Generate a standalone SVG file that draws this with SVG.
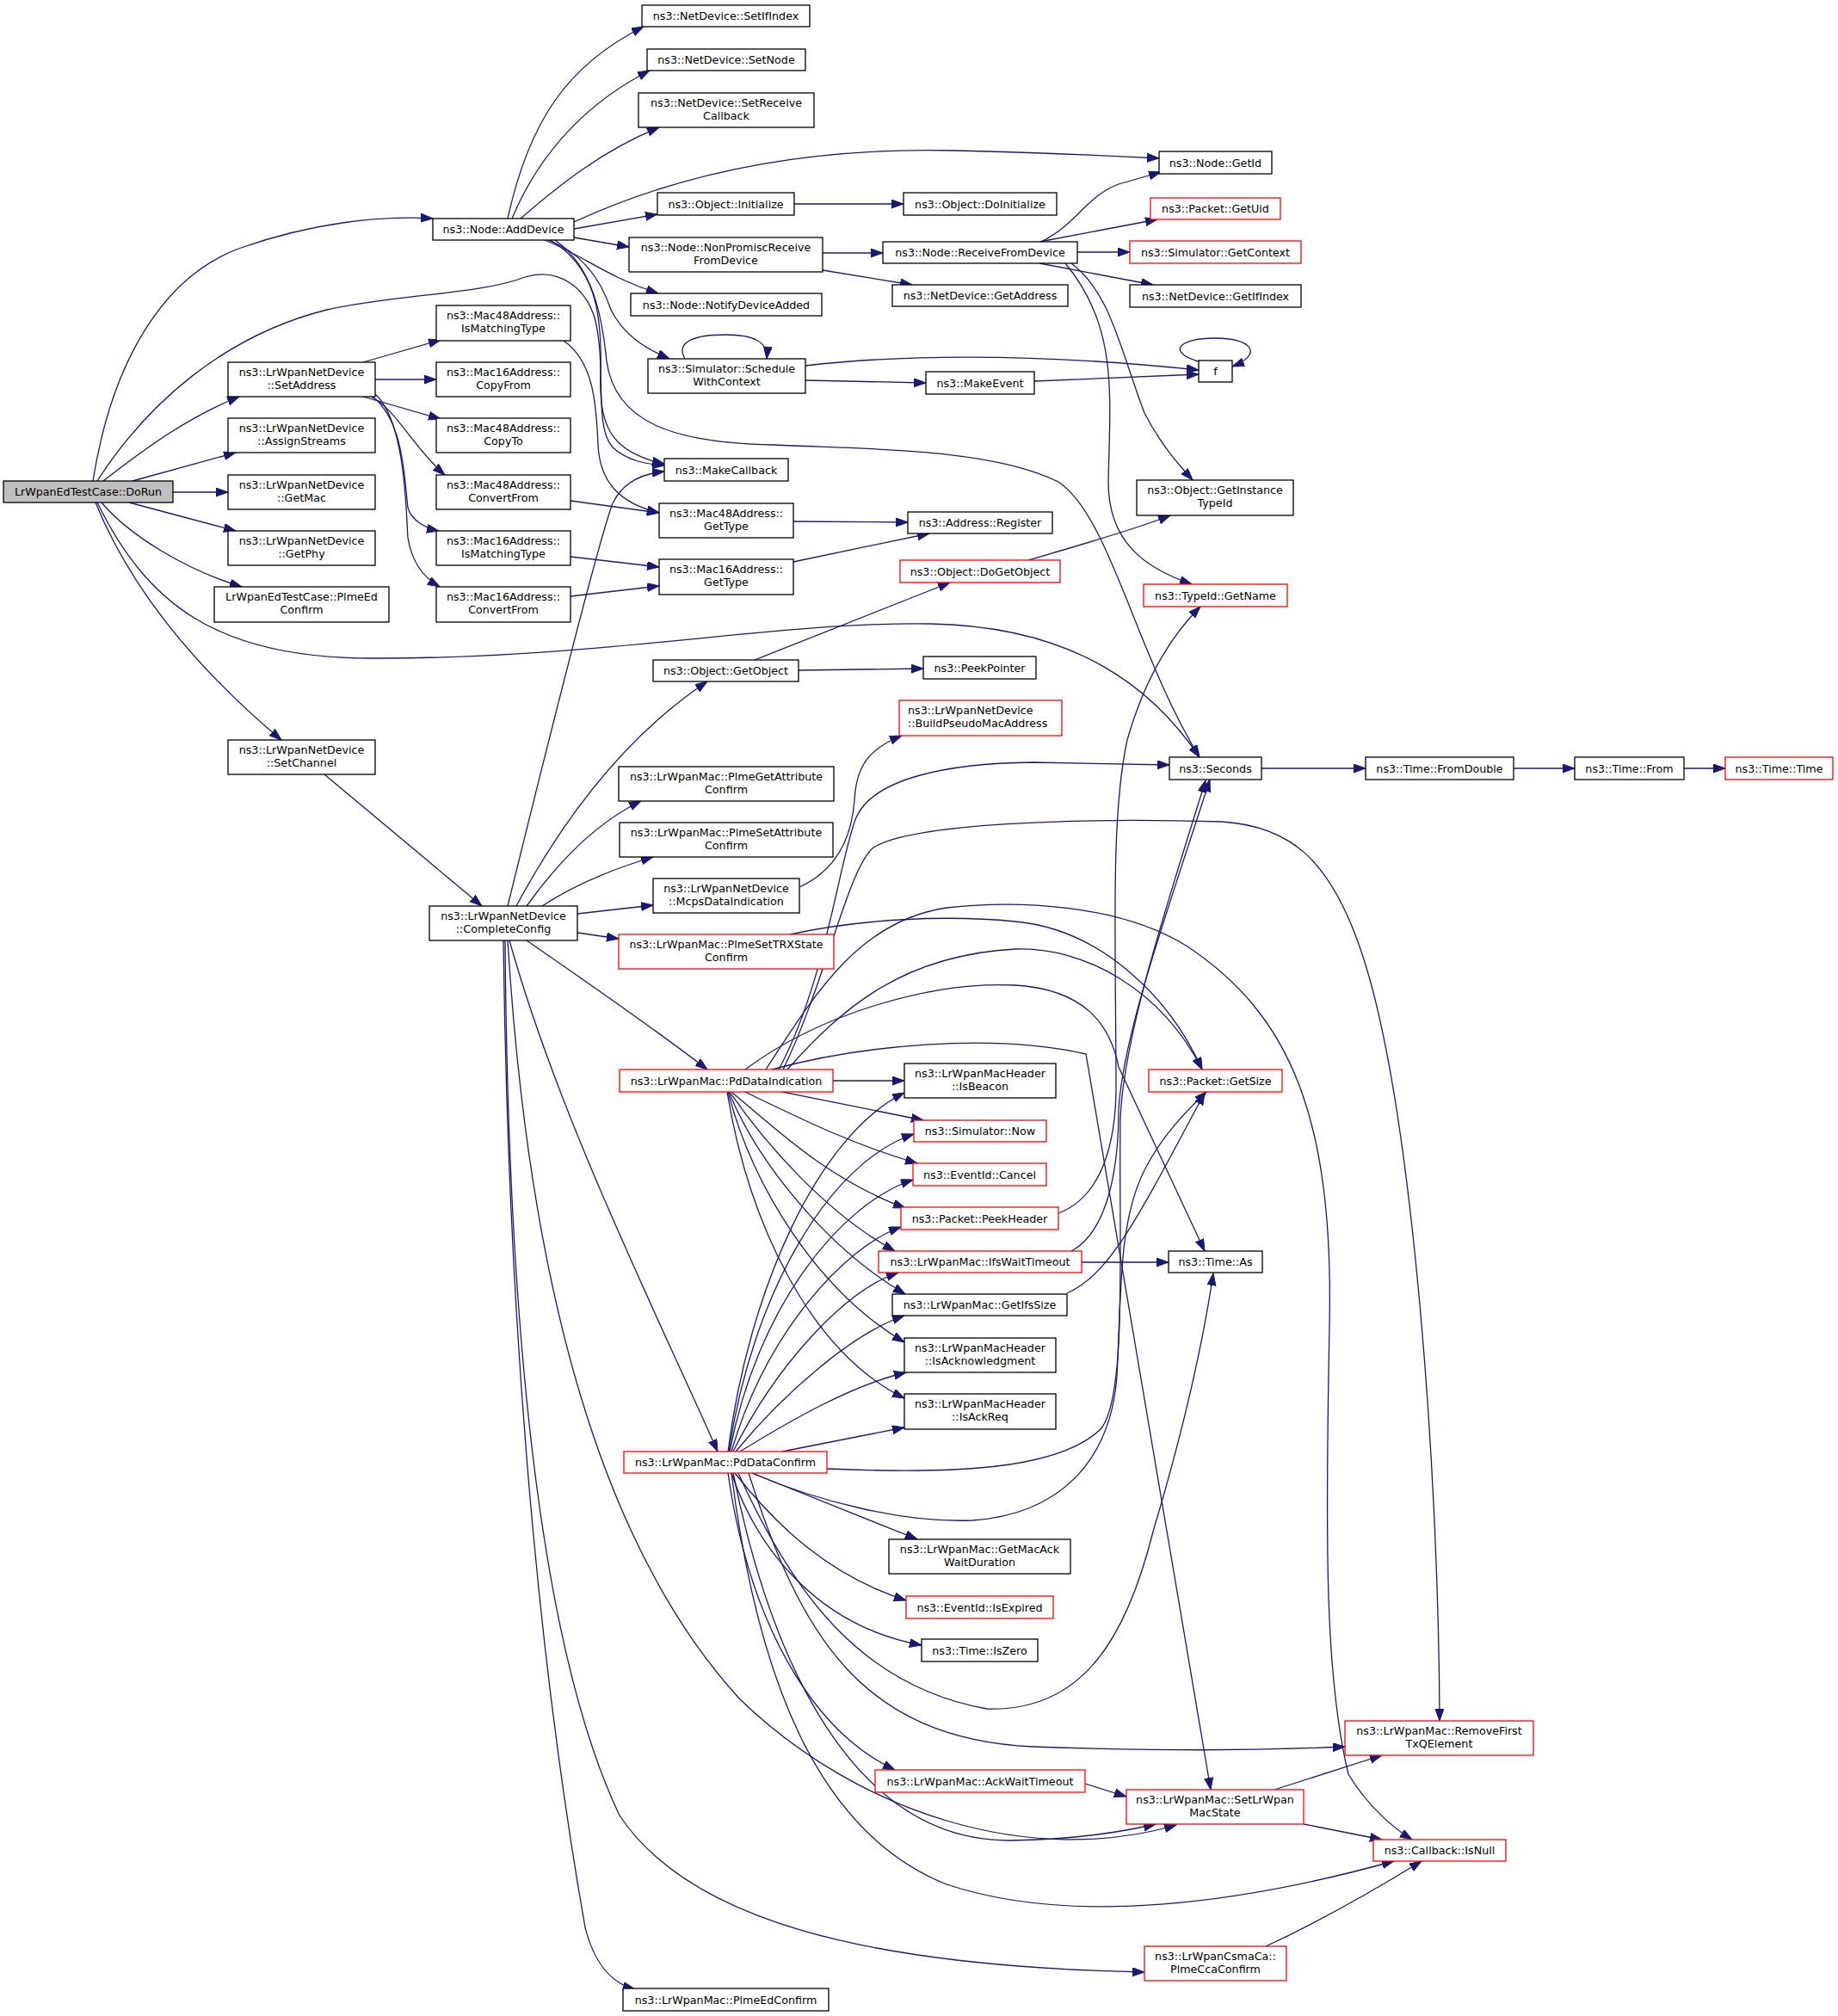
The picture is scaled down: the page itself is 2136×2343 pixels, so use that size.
<svg xmlns="http://www.w3.org/2000/svg" width="2136" height="2343" viewBox="0 0 2136 2343">
<style>
rect{fill:#fff;stroke:#000;stroke-width:1.3}
.r rect{stroke:#ff0000}
.g rect{fill:#bfbfbf}
text{font-family:"DejaVu Sans","Liberation Sans",sans-serif;font-size:12.7px;fill:#000;text-anchor:middle}
text.l{text-anchor:start}
#edges path{fill:none;stroke:#191970;stroke-width:1.3;marker-end:url(#a)}
</style>
<defs>
<marker id="a" markerUnits="userSpaceOnUse" markerWidth="16" markerHeight="12" refX="14" refY="5" orient="auto"><path d="M0,0 L14,5 L0,10 z" fill="#191970" stroke="#191970" stroke-width="1"/></marker>
</defs>
<rect x="0" y="0" width="2136" height="2343" style="fill:#fff;stroke:none"/>
<g id="edges">
<path d="M108,559 C130,420 190,320 280,288 C360,260 440,250 503,254"/>
<path d="M113,559 C170,470 260,390 380,360 C460,342 560,342 610,322 C650,310 682,335 692,373 C705,430 690,495 712,520 C730,536 750,539 772,541"/>
<path d="M120,559 C170,520 220,484 278,461"/>
<path d="M154,559 L274,526"/>
<path d="M201,572 L265,572"/>
<path d="M150,584 L274,617"/>
<path d="M118,584 C150,622 215,662 281,682"/>
<path d="M111,584 C150,680 220,770 327,860"/>
<path d="M113,584 C170,700 250,765 431,765 C700,766 900,722 1081,725 C1250,728 1340,800 1394,880"/>
<path d="M590,254 C615,140 660,75 748,31"/>
<path d="M595,254 C630,170 690,115 755,82"/>
<path d="M605,254 C650,215 700,175 766,148"/>
<path d="M667,258 C760,215 900,170 1109,175 C1200,177 1290,181 1347,184"/>
<path d="M667,266 L764,249"/>
<path d="M667,276 L731,287"/>
<path d="M633,279 C680,298 705,322 765,341"/>
<path d="M637,279 C680,295 700,330 710,360 C725,390 750,405 778,417"/>
<path d="M640,279 C690,310 700,360 698,430 C696,490 705,525 772,539"/>
<path d="M645,279 C690,310 700,370 705,420 C715,490 780,515 900,517 C1000,522 1150,520 1230,560 C1290,600 1320,760 1394,880"/>
<path d="M655,396 C690,420 693,470 695,517 C697,560 720,585 766,596"/>
<path d="M422,421 L512,395"/>
<path d="M436,441 L507,441"/>
<path d="M422,461 L512,487"/>
<path d="M431,461 C460,475 480,520 517,552"/>
<path d="M433,461 C470,490 470,560 474,590 C478,605 495,614 510,617"/>
<path d="M436,458 C472,490 472,600 474,625 C478,650 490,670 511,682"/>
<path d="M663,582 L766,596"/>
<path d="M663,647 L766,659"/>
<path d="M663,693 L766,681"/>
<path d="M922,606 L1055,607"/>
<path d="M922,653 L1080,620"/>
<path d="M956,294 L1026,294"/>
<path d="M956,314 L1060,331"/>
<path d="M923,237 L1050,237"/>
<path d="M796,417 C784,396 810,389 843,389 C875,389 893,397 891,417"/>
<path d="M936,425 C1050,412 1200,410 1393,430"/>
<path d="M936,442 L1076,445"/>
<path d="M1202,443 L1393,435"/>
<path d="M1396,421 C1355,410 1368,393 1412,393 C1456,393 1468,412 1432,426"/>
<path d="M1210,281 C1250,262 1262,228 1300,214 L1349,200"/>
<path d="M1208,281 L1345,255"/>
<path d="M1252,293 L1313,293"/>
<path d="M1208,306 L1340,331"/>
<path d="M1245,306 C1290,340 1300,400 1330,480 C1348,515 1368,538 1386,558"/>
<path d="M1238,306 C1300,380 1290,460 1288,560 C1288,630 1330,660 1385,679"/>
<path d="M877,767 L1104,677"/>
<path d="M928,779 L1073,777"/>
<path d="M1195,651 C1250,635 1320,615 1360,599"/>
<path d="M377,900 L560,1053"/>
<path d="M590,1053 C640,850 695,630 712,585 C725,558 750,550 772,548"/>
<path d="M600,1053 C650,960 720,860 822,792"/>
<path d="M612,1053 C650,1000 695,955 745,931"/>
<path d="M630,1053 C665,1030 705,1012 759,996"/>
<path d="M671,1062 L759,1052"/>
<path d="M671,1084 L719,1091"/>
<path d="M612,1093 C680,1140 760,1195 822,1243"/>
<path d="M592,1093 C650,1300 760,1520 834,1687"/>
<path d="M590,1093 C615,1500 700,1800 860,1975 C1000,2110 1200,2170 1367,2121"/>
<path d="M587,1093 C590,1500 620,1900 720,2110 C800,2230 1000,2285 1330,2292"/>
<path d="M585,1093 C590,1500 620,1900 680,2240 C690,2280 710,2305 738,2312"/>
<path d="M929,1031 C975,1010 990,970 993,930 C995,890 1010,870 1048,855"/>
<path d="M1466,893 L1587,893"/>
<path d="M1759,893 L1830,893"/>
<path d="M1957,893 L2005,893"/>
<path d="M968,1256 L1051,1256"/>
<path d="M909,1269 L1073,1302"/>
<path d="M866,1269 C930,1300 990,1330 1066,1352"/>
<path d="M850,1269 C900,1310 960,1370 1052,1404"/>
<path d="M848,1269 C890,1330 960,1410 1040,1454"/>
<path d="M847,1269 C880,1350 960,1450 1052,1504"/>
<path d="M846,1269 C875,1380 950,1500 1051,1560"/>
<path d="M845,1269 C870,1420 940,1570 1051,1625"/>
<path d="M905,1243 C960,1140 975,1000 995,950 C1015,905 1100,887 1200,886 L1359,889"/>
<path d="M910,1243 C960,1140 985,1010 1015,985 C1060,957 1250,950 1420,955 C1500,960 1545,1000 1580,1100 C1640,1270 1672,1700 1673,2000"/>
<path d="M915,1243 C980,1170 1050,1110 1180,1103 C1260,1100 1350,1150 1397,1243"/>
<path d="M890,1243 C950,1150 1000,1070 1100,1055 C1180,1046 1300,1050 1380,1100 C1500,1180 1550,1300 1545,1540 C1540,1800 1540,1950 1567,2062 C1590,2100 1620,2125 1641,2138"/>
<path d="M866,1243 C950,1180 1080,1140 1180,1145 C1260,1150 1290,1190 1300,1240 L1400,1454"/>
<path d="M897,1243 C1000,1215 1150,1200 1262,1225 L1407,2080"/>
<path d="M918,1086 C1000,1068 1100,1063 1180,1071 C1280,1080 1360,1160 1397,1243"/>
<path d="M846,1687 C870,1500 950,1320 1051,1270"/>
<path d="M847,1687 C875,1500 965,1350 1062,1318"/>
<path d="M848,1687 C880,1520 975,1400 1061,1371"/>
<path d="M850,1687 C890,1550 980,1450 1047,1426"/>
<path d="M852,1687 C900,1590 980,1500 1044,1479"/>
<path d="M855,1687 C910,1620 990,1550 1051,1529"/>
<path d="M860,1687 C920,1650 990,1610 1053,1595"/>
<path d="M909,1687 L1051,1659"/>
<path d="M961,1707 C1100,1713 1230,1710 1280,1660 C1310,1620 1300,1450 1302,1300 C1306,1200 1360,1040 1401,907"/>
<path d="M874,1712 C950,1745 1050,1770 1130,1767 C1230,1760 1290,1700 1298,1600 C1303,1500 1300,1420 1330,1360 C1350,1320 1380,1290 1402,1269"/>
<path d="M858,1712 C920,1850 1000,1960 1147,1986 C1260,1990 1310,1900 1340,1780 C1370,1680 1395,1580 1410,1480"/>
<path d="M870,1712 C930,1900 1000,2020 1200,2030 C1350,2035 1450,2035 1563,2030"/>
<path d="M852,1712 C900,1950 1000,2140 1174,2139 C1250,2138 1300,2130 1343,2120"/>
<path d="M850,1712 C880,1950 950,2130 1100,2190 C1250,2240 1450,2210 1620,2163"/>
<path d="M874,1712 L1066,1789"/>
<path d="M854,1712 C900,1770 960,1830 1053,1860"/>
<path d="M850,1712 C880,1800 950,1890 1071,1912"/>
<path d="M846,1712 C870,1880 940,2010 1040,2057"/>
<path d="M1230,1410 C1270,1395 1295,1350 1297,1270 C1297,1100 1290,950 1310,860 C1330,790 1360,740 1395,705"/>
<path d="M1245,1454 C1290,1430 1300,1350 1300,1290 C1305,1200 1360,1050 1406,906"/>
<path d="M1257,1467 L1358,1467"/>
<path d="M1240,1503 C1290,1480 1320,1420 1400,1270"/>
<path d="M1261,2073 L1309,2088"/>
<path d="M1481,2080 L1606,2040"/>
<path d="M1515,2120 L1606,2138"/>
<path d="M1471,2262 C1540,2230 1600,2195 1652,2163"/>
</g>
<g id="n_dorun" class="g"><rect x="4" y="559" width="197" height="25"/><text x="102.5" y="576">LrWpanEdTestCase::DoRun</text></g>
<g id="n_adddevice"><rect x="503" y="254" width="164" height="25"/><text x="585" y="271">ns3::Node::AddDevice</text></g>
<g id="n_setifindex"><rect x="746" y="6" width="195" height="25"/><text x="843.5" y="23">ns3::NetDevice::SetIfIndex</text></g>
<g id="n_setnode"><rect x="752" y="57" width="184" height="25"/><text x="844" y="74">ns3::NetDevice::SetNode</text></g>
<g id="n_setreceivecallback"><rect x="742" y="108" width="204" height="40"/><text x="844" y="123.5">ns3::NetDevice::SetReceive</text><text x="844" y="138.5">Callback</text></g>
<g id="n_getid"><rect x="1347" y="176" width="131" height="26"/><text x="1412.5" y="193.5">ns3::Node::GetId</text></g>
<g id="n_initialize"><rect x="764" y="224" width="159" height="26"/><text x="843.5" y="241.5">ns3::Object::Initialize</text></g>
<g id="n_doinitialize"><rect x="1050" y="224" width="178" height="26"/><text x="1139" y="241.5">ns3::Object::DoInitialize</text></g>
<g id="n_nonpromisc"><rect x="731" y="276" width="225" height="40"/><text x="843.5" y="291.5">ns3::Node::NonPromiscReceive</text><text x="843.5" y="306.5">FromDevice</text></g>
<g id="n_receivefromdevice"><rect x="1026" y="281" width="226" height="25"/><text x="1139" y="298">ns3::Node::ReceiveFromDevice</text></g>
<g id="n_getuid" class="r"><rect x="1337" y="230" width="151" height="25"/><text x="1412.5" y="247">ns3::Packet::GetUid</text></g>
<g id="n_getcontext" class="r"><rect x="1313" y="280" width="199" height="26"/><text x="1412.5" y="297.5">ns3::Simulator::GetContext</text></g>
<g id="n_getifindex"><rect x="1313" y="331" width="199" height="26"/><text x="1412.5" y="348.5">ns3::NetDevice::GetIfIndex</text></g>
<g id="n_getaddress"><rect x="1037" y="331" width="204" height="25"/><text x="1139" y="348">ns3::NetDevice::GetAddress</text></g>
<g id="n_notifydeviceadded"><rect x="733" y="341" width="222" height="26"/><text x="844" y="358.5">ns3::Node::NotifyDeviceAdded</text></g>
<g id="n_mac48ismatching"><rect x="507" y="355" width="156" height="41"/><text x="585" y="371">ns3::Mac48Address::</text><text x="585" y="386">IsMatchingType</text></g>
<g id="n_setaddress"><rect x="265" y="421" width="171" height="40"/><text x="350.5" y="436.5">ns3::LrWpanNetDevice</text><text x="350.5" y="451.5">::SetAddress</text></g>
<g id="n_mac16copyfrom"><rect x="507" y="421" width="156" height="40"/><text x="585" y="436.5">ns3::Mac16Address::</text><text x="585" y="451.5">CopyFrom</text></g>
<g id="n_schedulewithcontext"><rect x="753" y="417" width="183" height="40"/><text x="844.5" y="432.5">ns3::Simulator::Schedule</text><text x="844.5" y="447.5">WithContext</text></g>
<g id="n_makeevent"><rect x="1076" y="432" width="126" height="26"/><text x="1139" y="449.5">ns3::MakeEvent</text></g>
<g id="n_f"><rect x="1393" y="419" width="39" height="25"/><text x="1412.5" y="436">f</text></g>
<g id="n_assignstreams"><rect x="265" y="486" width="171" height="40"/><text x="350.5" y="501.5">ns3::LrWpanNetDevice</text><text x="350.5" y="516.5">::AssignStreams</text></g>
<g id="n_mac48copyto"><rect x="507" y="486" width="156" height="40"/><text x="585" y="501.5">ns3::Mac48Address::</text><text x="585" y="516.5">CopyTo</text></g>
<g id="n_makecallback"><rect x="772" y="533" width="144" height="26"/><text x="844" y="550.5">ns3::MakeCallback</text></g>
<g id="n_getmac"><rect x="265" y="552" width="171" height="40"/><text x="350.5" y="567.5">ns3::LrWpanNetDevice</text><text x="350.5" y="582.5">::GetMac</text></g>
<g id="n_mac48convertfrom"><rect x="507" y="552" width="156" height="40"/><text x="585" y="567.5">ns3::Mac48Address::</text><text x="585" y="582.5">ConvertFrom</text></g>
<g id="n_getinstancetypeid"><rect x="1321" y="558" width="182" height="41"/><text x="1412" y="574">ns3::Object::GetInstance</text><text x="1412" y="589">TypeId</text></g>
<g id="n_mac48gettype"><rect x="766" y="585" width="156" height="40"/><text x="844" y="600.5">ns3::Mac48Address::</text><text x="844" y="615.5">GetType</text></g>
<g id="n_addressregister"><rect x="1055" y="595" width="168" height="25"/><text x="1139" y="612">ns3::Address::Register</text></g>
<g id="n_getphy"><rect x="265" y="617" width="171" height="40"/><text x="350.5" y="632.5">ns3::LrWpanNetDevice</text><text x="350.5" y="647.5">::GetPhy</text></g>
<g id="n_mac16ismatching"><rect x="507" y="617" width="156" height="40"/><text x="585" y="632.5">ns3::Mac16Address::</text><text x="585" y="647.5">IsMatchingType</text></g>
<g id="n_mac16gettype"><rect x="766" y="650" width="156" height="41"/><text x="844" y="666">ns3::Mac16Address::</text><text x="844" y="681">GetType</text></g>
<g id="n_dogetobject" class="r"><rect x="1046" y="651" width="186" height="26"/><text x="1139" y="668.5">ns3::Object::DoGetObject</text></g>
<g id="n_typeidgetname" class="r"><rect x="1329" y="679" width="167" height="26"/><text x="1412.5" y="696.5">ns3::TypeId::GetName</text></g>
<g id="n_plmeedconfirmtc"><rect x="249" y="682" width="203" height="41"/><text x="350.5" y="698">LrWpanEdTestCase::PlmeEd</text><text x="350.5" y="713">Confirm</text></g>
<g id="n_mac16convertfrom"><rect x="507" y="682" width="156" height="41"/><text x="585" y="698">ns3::Mac16Address::</text><text x="585" y="713">ConvertFrom</text></g>
<g id="n_getobject"><rect x="759" y="767" width="169" height="25"/><text x="843.5" y="784">ns3::Object::GetObject</text></g>
<g id="n_peekpointer"><rect x="1073" y="763" width="131" height="26"/><text x="1138.5" y="780.5">ns3::PeekPointer</text></g>
<g id="n_buildpseudo" class="r"><rect x="1045" y="814" width="189" height="41"/><text class="l" x="1055" y="830">ns3::LrWpanNetDevice</text><text class="l" x="1055" y="845">::BuildPseudoMacAddress</text></g>
<g id="n_setchannel"><rect x="265" y="860" width="171" height="40"/><text x="350.5" y="875.5">ns3::LrWpanNetDevice</text><text x="350.5" y="890.5">::SetChannel</text></g>
<g id="n_seconds"><rect x="1359" y="880" width="107" height="26"/><text x="1412.5" y="897.5">ns3::Seconds</text></g>
<g id="n_fromdouble"><rect x="1587" y="880" width="172" height="26"/><text x="1673" y="897.5">ns3::Time::FromDouble</text></g>
<g id="n_timefrom"><rect x="1830" y="880" width="127" height="26"/><text x="1893.5" y="897.5">ns3::Time::From</text></g>
<g id="n_timetime" class="r"><rect x="2005" y="880" width="125" height="26"/><text x="2067.5" y="897.5">ns3::Time::Time</text></g>
<g id="n_plmegetattr"><rect x="719" y="891" width="250" height="40"/><text x="844" y="906.5">ns3::LrWpanMac::PlmeGetAttribute</text><text x="844" y="921.5">Confirm</text></g>
<g id="n_plmesetattr"><rect x="720" y="956" width="248" height="40"/><text x="844" y="971.5">ns3::LrWpanMac::PlmeSetAttribute</text><text x="844" y="986.5">Confirm</text></g>
<g id="n_mcpsdataindication"><rect x="759" y="1021" width="170" height="40"/><text x="844" y="1036.5">ns3::LrWpanNetDevice</text><text x="844" y="1051.5">::McpsDataIndication</text></g>
<g id="n_completeconfig"><rect x="499" y="1053" width="172" height="40"/><text x="585" y="1068.5">ns3::LrWpanNetDevice</text><text x="585" y="1083.5">::CompleteConfig</text></g>
<g id="n_plmesettrx" class="r"><rect x="719" y="1086" width="250" height="40"/><text x="844" y="1101.5">ns3::LrWpanMac::PlmeSetTRXState</text><text x="844" y="1116.5">Confirm</text></g>
<g id="n_pddataindication" class="r"><rect x="720" y="1243" width="248" height="26"/><text x="844" y="1260.5">ns3::LrWpanMac::PdDataIndication</text></g>
<g id="n_isbeacon"><rect x="1051" y="1236" width="176" height="40"/><text x="1139" y="1251.5">ns3::LrWpanMacHeader</text><text x="1139" y="1266.5">::IsBeacon</text></g>
<g id="n_getsize" class="r"><rect x="1335" y="1243" width="155" height="26"/><text x="1412.5" y="1260.5">ns3::Packet::GetSize</text></g>
<g id="n_simnow" class="r"><rect x="1062" y="1302" width="154" height="25"/><text x="1139" y="1319">ns3::Simulator::Now</text></g>
<g id="n_cancel" class="r"><rect x="1061" y="1352" width="155" height="26"/><text x="1138.5" y="1369.5">ns3::EventId::Cancel</text></g>
<g id="n_peekheader" class="r"><rect x="1047" y="1403" width="183" height="26"/><text x="1138.5" y="1420.5">ns3::Packet::PeekHeader</text></g>
<g id="n_ifswaittimeout" class="r"><rect x="1021" y="1454" width="236" height="25"/><text x="1139" y="1471">ns3::LrWpanMac::IfsWaitTimeout</text></g>
<g id="n_timeas"><rect x="1358" y="1454" width="109" height="25"/><text x="1412.5" y="1471">ns3::Time::As</text></g>
<g id="n_getifssize"><rect x="1037" y="1504" width="203" height="25"/><text x="1138.5" y="1521">ns3::LrWpanMac::GetIfsSize</text></g>
<g id="n_isack"><rect x="1051" y="1555" width="176" height="40"/><text x="1139" y="1570.5">ns3::LrWpanMacHeader</text><text x="1139" y="1585.5">::IsAcknowledgment</text></g>
<g id="n_isackreq"><rect x="1051" y="1620" width="176" height="41"/><text x="1139" y="1636">ns3::LrWpanMacHeader</text><text x="1139" y="1651">::IsAckReq</text></g>
<g id="n_pddataconfirm" class="r"><rect x="725" y="1687" width="236" height="25"/><text x="843" y="1704">ns3::LrWpanMac::PdDataConfirm</text></g>
<g id="n_getmacack"><rect x="1033" y="1789" width="211" height="40"/><text x="1138.5" y="1804.5">ns3::LrWpanMac::GetMacAck</text><text x="1138.5" y="1819.5">WaitDuration</text></g>
<g id="n_isexpired" class="r"><rect x="1053" y="1855" width="171" height="26"/><text x="1138.5" y="1872.5">ns3::EventId::IsExpired</text></g>
<g id="n_iszero"><rect x="1071" y="1905" width="135" height="26"/><text x="1138.5" y="1922.5">ns3::Time::IsZero</text></g>
<g id="n_removefirst" class="r"><rect x="1563" y="2000" width="219" height="40"/><text x="1672.5" y="2015.5">ns3::LrWpanMac::RemoveFirst</text><text x="1672.5" y="2030.5">TxQElement</text></g>
<g id="n_ackwaittimeout" class="r"><rect x="1017" y="2057" width="244" height="26"/><text x="1139" y="2074.5">ns3::LrWpanMac::AckWaitTimeout</text></g>
<g id="n_setlrwpanmacstate" class="r"><rect x="1309" y="2080" width="206" height="40"/><text x="1412" y="2095.5">ns3::LrWpanMac::SetLrWpan</text><text x="1412" y="2110.5">MacState</text></g>
<g id="n_isnull" class="r"><rect x="1596" y="2138" width="154" height="25"/><text x="1673" y="2155">ns3::Callback::IsNull</text></g>
<g id="n_plmeccaconfirm" class="r"><rect x="1330" y="2262" width="165" height="40"/><text x="1412.5" y="2277.5">ns3::LrWpanCsmaCa::</text><text x="1412.5" y="2292.5">PlmeCcaConfirm</text></g>
<g id="n_plmeedconfirmmac"><rect x="724" y="2311" width="239" height="26"/><text x="843.5" y="2328.5">ns3::LrWpanMac::PlmeEdConfirm</text></g>
</svg>
